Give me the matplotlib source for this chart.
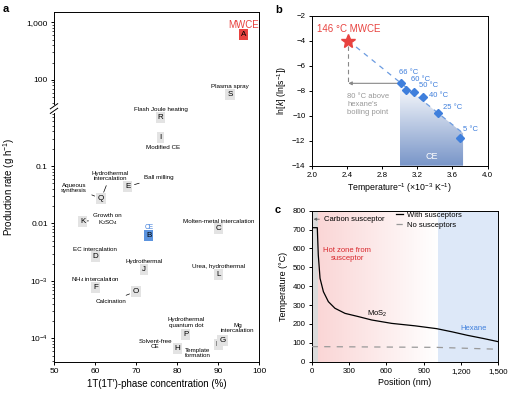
import numpy as np
import matplotlib
matplotlib.use("Agg")
import matplotlib.pyplot as plt
from matplotlib.colors import LinearSegmentedColormap
from matplotlib.patches import Polygon, Rectangle

plt.rcParams['font.family'] = ['Liberation Sans', 'DejaVu Sans']
plt.rcParams['mathtext.fontset'] = 'custom'
plt.rcParams['mathtext.rm'] = 'Liberation Sans'
plt.rcParams['mathtext.it'] = 'Liberation Sans:italic'
plt.rcParams['axes.linewidth'] = 0.7
plt.rcParams['xtick.major.width'] = 0.7
plt.rcParams['ytick.major.width'] = 0.7
plt.rcParams['xtick.major.size'] = 2.5
plt.rcParams['ytick.major.size'] = 2.5
plt.rcParams['xtick.labelsize'] = 5.7
plt.rcParams['ytick.labelsize'] = 5.7
plt.rcParams['xtick.major.pad'] = 2
plt.rcParams['ytick.major.pad'] = 2

# ---- panel a: production rate vs 1T phase concentration ----
letters = ["A", "S", "R", "I", "E", "Q", "K", "B", "C", "D", "J", "L", "F", "O",
           "P", "H", "N", "G"]
methods = ["MWCE", "Plasma spray", "Flash Joule heating", "Modified CE",
           "Ball milling", "Aqueous\nsynthesis", "Growth on\nK$_2$SO$_4$", "CE",
           "Molten-metal intercalation", "EC intercalation", "Hydrothermal",
           "Urea, hydrothermal", "NH$_4$ intercalation", "Calcination",
           "Hydrothermal\nquantum dot", "Solvent-free\nCE", "Template\nformation",
           "Mg\nintercalation"]
conc = [96.2, 92.9, 76.0, 76.0, 68.0, 61.5, 57.0, 73.1, 90.1, 60.1, 72.0, 90.1,
        60.1, 70.0, 82.1, 80.1, 90.1, 91.1]
rate = [610, 56, 0.70, 0.31, 0.044, 0.027, 0.011, 0.0063, 0.0083, 0.0027, 0.0016,
        0.0013, 7.6e-4, 6.6e-4, 1.18e-4, 6.8e-5, 7.9e-5, 9.3e-5]
rate_ticks = [1000, 100, 0.1, 0.01, 1e-3, 1e-4]
rate_ticklabels = ["1,000", "100", "0.1", "0.01", "10$^{-3}$", "10$^{-4}$"]

# ---- panel b: Arrhenius plot ----
invT = [3.01, 3.07, 3.16, 3.27, 3.44, 3.69]
lnk = [-7.41, -7.94, -8.13, -8.53, -9.76, -11.81]
temp_labels = ["66 °C", "60 °C", "50 °C", "40 °C", "25 °C", "5 °C"]
mwce_invT, mwce_lnk = 2.416, -4.0
fit_x = [2.416, 3.72]
fit_y = [-4.0, -11.4]
ce_span = [3.0, 3.72]

# ---- panel c: temperature profile ----
pos_with = [0, 45, 48, 53, 67, 94, 134, 187, 268, 375, 482, 643, 831, 1005,
            1130, 1250, 1380, 1500]
temp_with = [710, 710, 654, 565, 442, 371, 318, 283, 256, 239, 221, 203, 190,
             175, 158, 140, 123, 106]
pos_without = [0, 1000, 1500]
temp_without = [80, 76, 66]
susceptor_end = 48
hexane_start = 1005

RED = "#e8423f"
BLUE = "#3f7fdc"
BREAK = 1.5  # decades removed by the axis break


def to_axis(v):
    d = np.log10(v)
    return d - BREAK if v > 1 else d


fig = plt.figure(figsize=(5.26, 3.93), dpi=100)
W, H = 526, 393


def box(l, t, r, b):
    return [l / W, (H - b) / H, (r - l) / W, (b - t) / H]


# ================= panel a =================
ax = fig.add_axes(box(54, 12, 259, 362))
ax.set_xlim(50, 100)
ax.set_ylim(-4.41, 1.68)
ax.set_xticks(range(50, 101, 10))
ax.set_yticks([to_axis(v) for v in rate_ticks])
ax.set_yticklabels(rate_ticklabels)
ax.tick_params(labelsize=6)
minor = []
for e in range(-5, 4):
    for k in range(2, 10):
        v = k * 10.0 ** e
        d = to_axis(v)
        if v < 1 and -4.41 <= d < -0.06:
            minor.append(d)
        if v > 30 and 0.06 < d <= 1.68:
            minor.append(d)
ax.set_yticks(minor, minor=True)
ax.tick_params(axis="y", which="minor", length=1.5, width=0.5)
ax.set_xlabel("1T(1T′)-phase concentration (%)", fontsize=7, labelpad=3)
ax.set_ylabel("Production rate (g h$^{-1}$)", fontsize=7, labelpad=7)

# axis break on left spine
tr = ax.get_yaxis_transform()
ax.add_patch(Rectangle((-0.01, -0.07), 0.02, 0.14, transform=tr, fc="white",
                       ec="none", clip_on=False, zorder=5))
for yc in (-0.04, 0.04):
    ax.plot([-0.018, 0.018], [yc - 0.045, yc + 0.045], transform=tr, color="k",
            lw=0.7, clip_on=False, zorder=6)

label_style = {
    "A": (0, 10, False), "S": (0, 8, False), "R": (0, 8, False),
    "I": (2, -10, False), "E": (31, 9, True), "Q": (-27, 11, True),
    "K": (25, 1, True), "B": (0, 8, False), "C": (0, 7, False),
    "D": (0, 7, False), "J": (0, 7.5, False), "L": (0, 7.5, False),
    "F": (0, 8.5, False), "O": (-25, -10, True), "P": (1, 12, False),
    "H": (-22, 4, False), "N": (-21, -8.5, True), "G": (15, 12, True),
}
for let, name, x, v in zip(letters, methods, conc, rate):
    y = to_axis(v)
    fc = "#e3e3e3"
    if let == "A":
        fc = RED
    elif let == "B":
        fc = "#5b93de"
    ax.text(x, y, let, ha="center", va="center", fontsize=5.8, zorder=4,
            bbox=dict(boxstyle="square,pad=0.25", fc=fc, ec="none"))
    dx, dy, lead = label_style[let]
    color, fs = "black", 4.5
    if let == "A":
        color, fs = RED, 7
    elif let == "B":
        color, fs = BLUE, 4.8
    kw = dict(textcoords="offset pixels", ha="center", va="center",
              fontsize=fs, color=color, linespacing=1.1)
    if lead:
        kw["arrowprops"] = dict(arrowstyle="-", lw=0.5, color="k",
                                shrinkA=1.5, shrinkB=5)
    ax.annotate(name, xy=(x, y), xytext=(dx, dy), **kw)

# second label on Q
qi = letters.index("Q")
ax.annotate("Hydrothermal\nintercalation", xy=(conc[qi], to_axis(rate[qi])),
            xytext=(9, 23), textcoords="offset pixels", ha="center",
            va="center", fontsize=4.5, linespacing=1.1,
            arrowprops=dict(arrowstyle="-", lw=0.5, color="k", shrinkA=1.5,
                            shrinkB=5))

fig.text(3 / W, 1 - 9 / H, "a", fontsize=8, fontweight="bold", va="center")

# ================= panel b =================
bx = fig.add_axes(box(311.7, 15.7, 487.7, 165.7))
bx.set_xlim(2.0, 4.0)
bx.set_ylim(-14, -2)
bx.set_xticks(np.arange(2.0, 4.01, 0.4))
bx.set_xticklabels([f"{t:.1f}" for t in np.arange(2.0, 4.01, 0.4)])
bx.set_yticks(range(-14, -1, 2))
bx.set_yticklabels([f"−{abs(t)}" for t in range(-14, -1, 2)])
bx.set_xlabel("Temperature$^{-1}$ (×10$^{-3}$ K$^{-1}$)", fontsize=6.3,
              labelpad=2)
bx.set_ylabel("ln[$k$] (ln[s$^{-1}$])", fontsize=6.3, labelpad=2)

slope = (fit_y[1] - fit_y[0]) / (fit_x[1] - fit_x[0])
top_l = fit_y[0] + slope * (ce_span[0] - fit_x[0])
top_r = fit_y[0] + slope * (ce_span[1] - fit_x[0])
poly = Polygon([(ce_span[0], -14), (ce_span[0], top_l), (ce_span[1], top_r),
                (ce_span[1], -14)], closed=True, fc="none", ec="none")
bx.add_patch(poly)
cmap_b = LinearSegmentedColormap.from_list("ce", ["#7895c8", "#ffffff"])
grad = np.linspace(0, 1, 256).reshape(-1, 1)
im = bx.imshow(grad, cmap=cmap_b, extent=[ce_span[0], ce_span[1], -14, top_l],
               origin="lower", aspect="auto", zorder=1)
im.set_clip_path(poly)
bx.text(np.mean(ce_span), -13.3, "CE", color="white", fontsize=6.5,
        ha="center", va="center", zorder=2)

bx.plot(fit_x, fit_y, color="#6b9be0", lw=0.9, ls=(0, (4, 4)), zorder=2)
bx.plot([mwce_invT, mwce_invT], [mwce_lnk - 0.4, lnk[0]], color="#888888",
        lw=0.8, ls=(0, (4, 3)), zorder=2)
bx.annotate("", xy=(mwce_invT, lnk[0]), xytext=(invT[0] - 0.03, lnk[0]),
            arrowprops=dict(arrowstyle="-|>", color="#888888", lw=0.8,
                            mutation_scale=5, shrinkA=0, shrinkB=0))
bx.text(mwce_invT - 0.01, -8.2, "80 °C above\nhexane's\nboiling point",
        color="#999999", fontsize=5.5, ha="left", va="top", linespacing=1.2)
bx.plot(invT, lnk, "D", color=BLUE, ms=4.2, zorder=3)
bx.plot(mwce_invT, mwce_lnk, "*", color=RED, ms=10, zorder=3)
bx.text(mwce_invT, -3.05, "146 °C MWCE", color=RED, fontsize=7, ha="center",
        va="center")
t_off = [(-1.4, 10.6), (5, 10), (5, 6.6), (6, 2.3), (5, 5.4), (3, 9)]
for x, y, lab, off in zip(invT, lnk, temp_labels, t_off):
    bx.annotate(lab, xy=(x, y), xytext=off, textcoords="offset pixels",
                color=BLUE, fontsize=5.5, ha="left", va="center")

fig.text(275 / W, 1 - 10 / H, "b", fontsize=8, fontweight="bold", va="center")

# ================= panel c =================
cx = fig.add_axes(box(311.7, 210.7, 498.3, 361.7))
cx.set_xlim(0, 1500)
cx.set_ylim(0, 800)
cx.set_xticks(range(0, 1501, 300))
cx.set_xticklabels([f"{t:,}" for t in range(0, 1501, 300)])
cx.set_yticks(range(0, 801, 100))
cx.set_xlabel("Position (nm)", fontsize=6.5, labelpad=2)
cx.set_ylabel("Temperature (°C)", fontsize=6.5, labelpad=3)

cx.axvspan(0, susceptor_end, color="#dcdcdc", lw=0, zorder=0)
cx.axvspan(hexane_start, 1500, color="#dde8f8", lw=0, zorder=0)
cmap_c = LinearSegmentedColormap.from_list("hot", ["#fad6d6", "#ffffff"])
cx.imshow(np.linspace(0, 1, 256).reshape(1, -1), cmap=cmap_c,
          extent=[susceptor_end, hexane_start, 0, 800], aspect="auto",
          zorder=0)

cx.plot(pos_with, temp_with, color="black", lw=0.9, label="With susceptors",
        zorder=3)
cx.plot(pos_without, temp_without, color="#999999", lw=0.9, ls=(0, (5, 5)),
        label="No susceptors", zorder=3)
cx.legend(loc="upper left", bbox_to_anchor=(0.45, 1.0), frameon=False,
          fontsize=5.5, handlelength=0.9, handletextpad=0.5, borderpad=0.1,
          borderaxespad=0, labelspacing=0.35)
cx.annotate("Carbon susceptor", xy=(15, 755), xytext=(95, 755),
            fontsize=5.5, ha="left", va="center",
            arrowprops=dict(arrowstyle="-|>", color="#666666", lw=0.6,
                            mutation_scale=4, shrinkA=1, shrinkB=0))
cx.text(285, 568, "Hot zone from\nsusceptor", color="#d8262b", fontsize=5.5,
        ha="center", va="center", linespacing=1.3)
cx.text(523, 228, "MoS$_2$", fontsize=5.5, ha="center", va="bottom")
cx.text(1305, 177, "Hexane", color=BLUE, fontsize=5.5, ha="center",
        va="center")

fig.text(275 / W, 1 - 210 / H, "c", fontsize=8, fontweight="bold",
         va="center")

fig.savefig("out.png", dpi=100)
